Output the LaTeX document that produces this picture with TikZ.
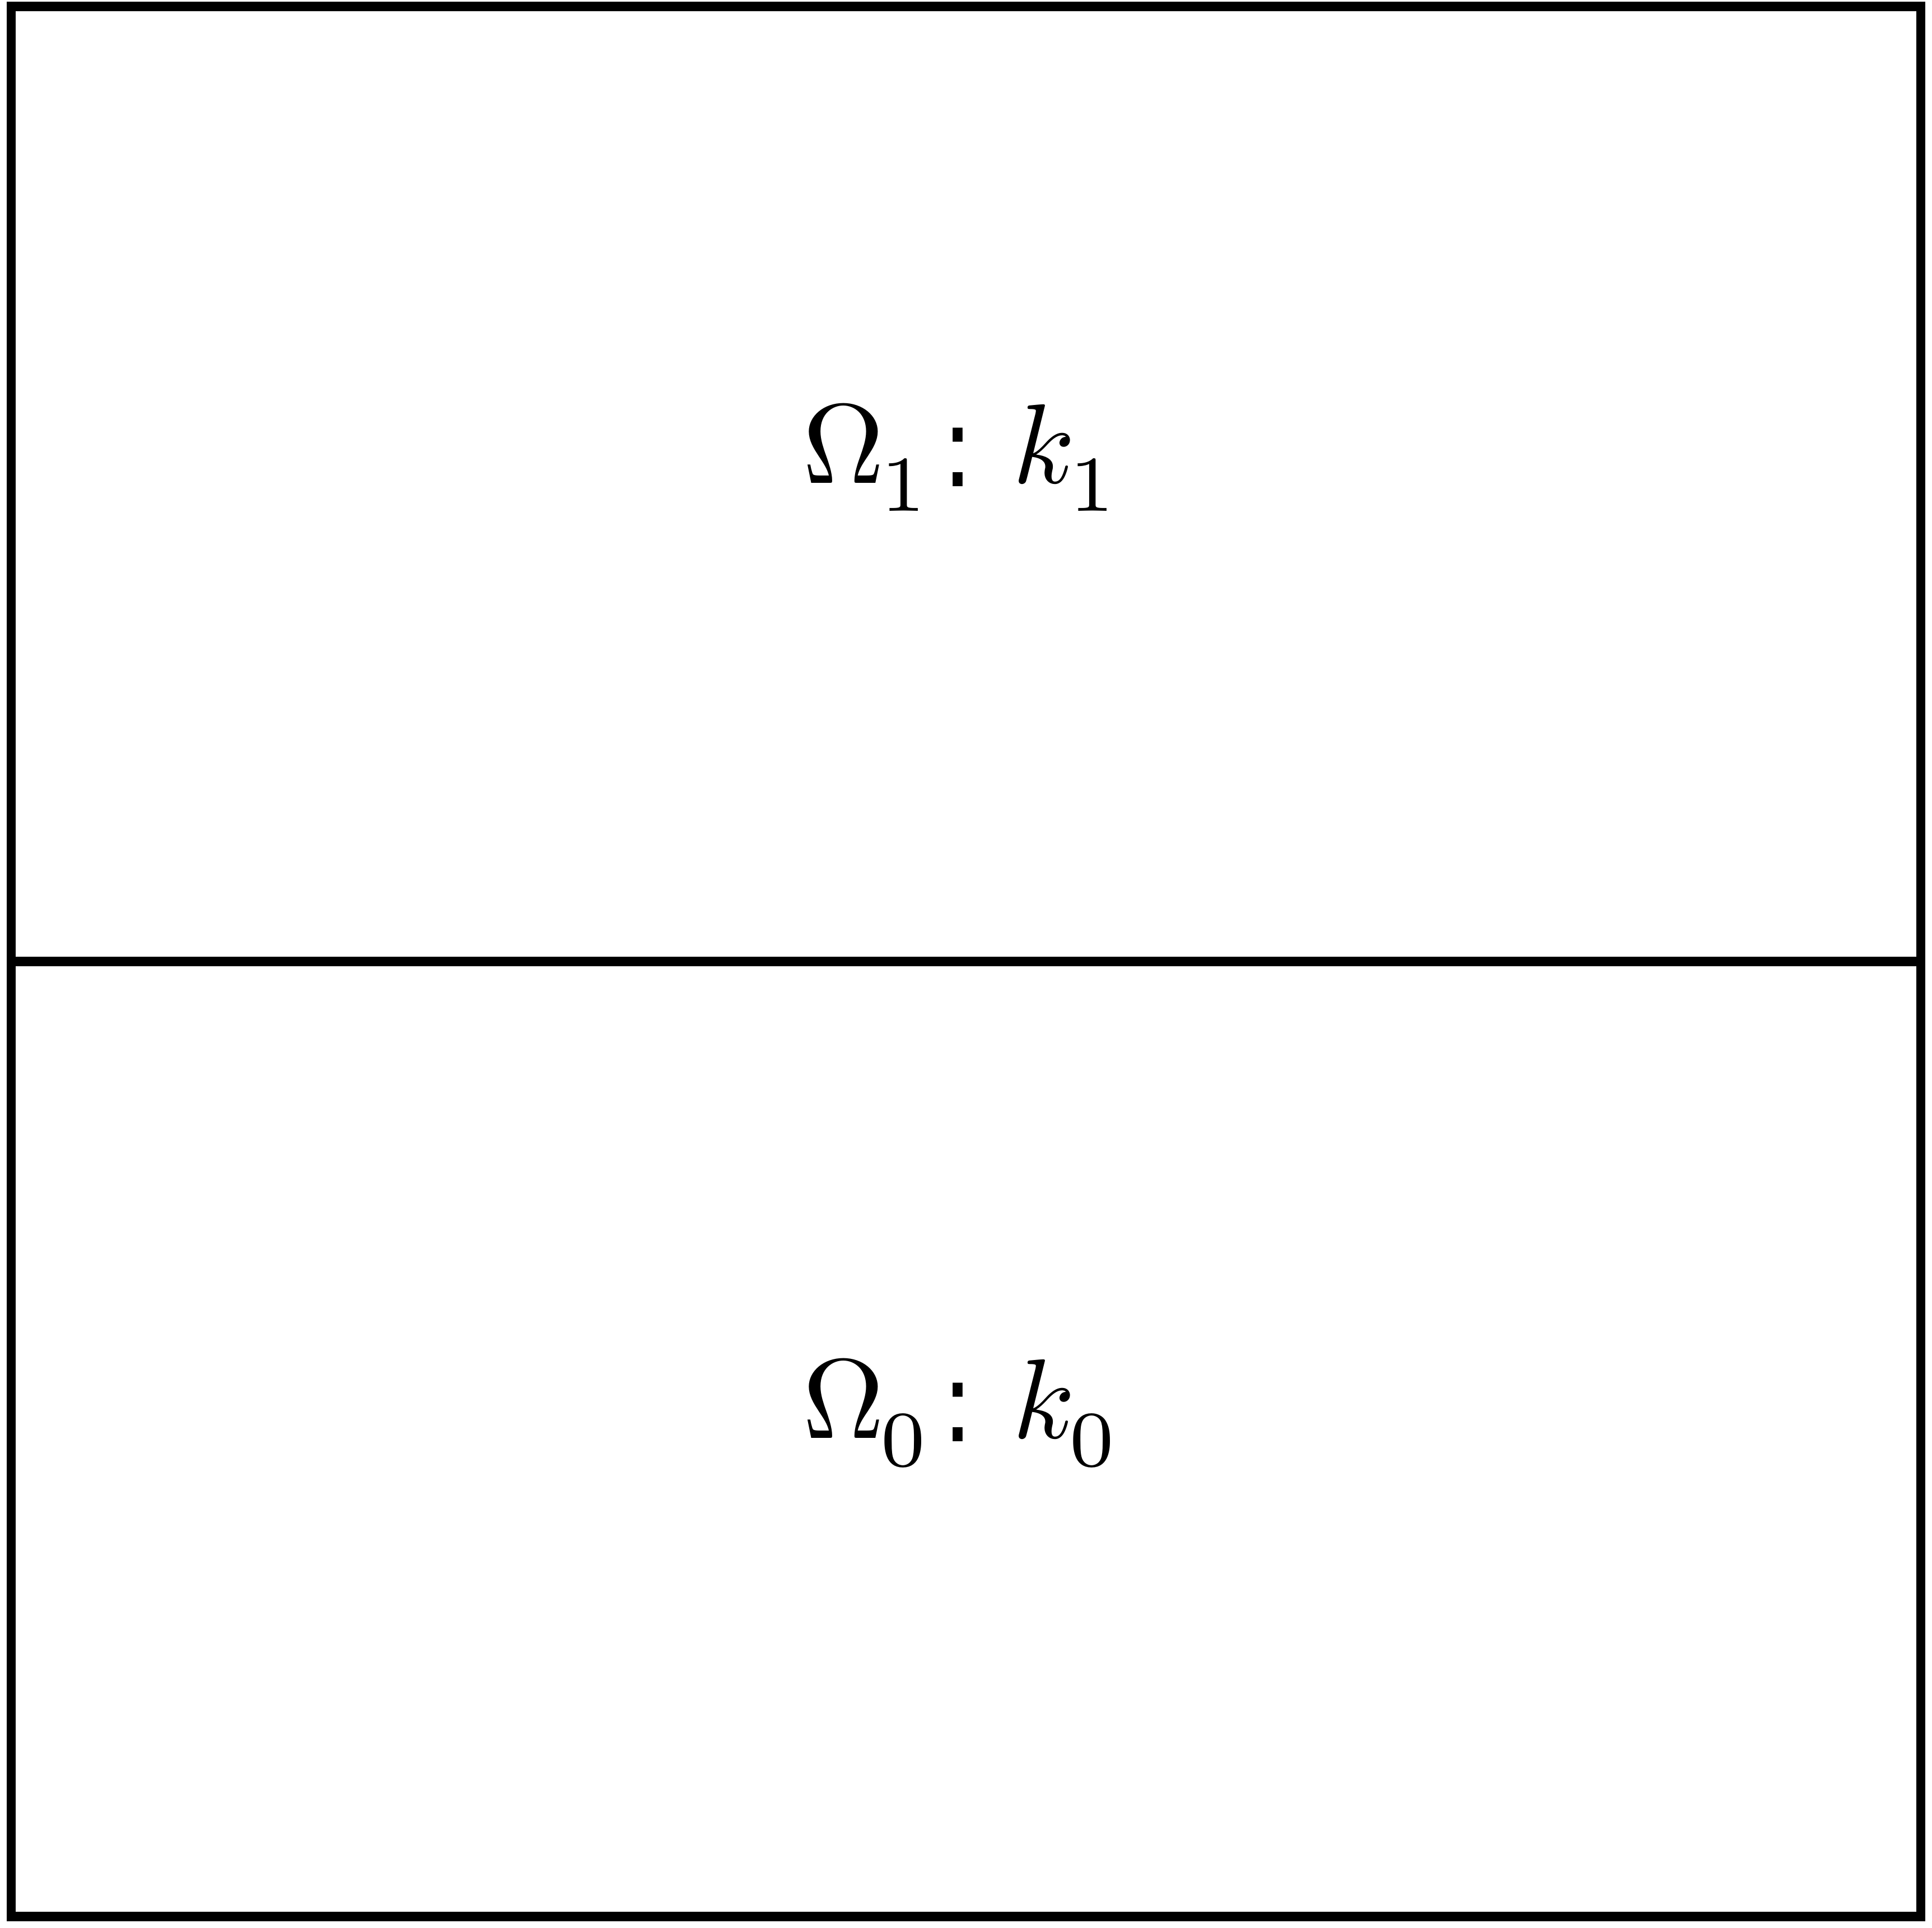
\documentclass[tikz,border=0pt]{standalone}
\usepackage{fontspec}
\newfontfamily\colonfont{DejaVu Sans}
\newcommand{\lowsub}[1]{\lower0.245em\hbox{$\scriptstyle #1$}}
\newcommand{\regionlabel}[2]{$#1$\kern-0.03em\lowsub{#2}\kern0.14em\lower0.025em\hbox{\scalebox{0.85}[1]{\colonfont:}}\kern0.34em$k$\kern-0.05em\lowsub{#2}}
\begin{document}
\begin{tikzpicture}[
  frame/.style={line width=4.75pt},
  lbl/.style={scale=5.75, anchor=base west, inner sep=0pt}
]
\useasboundingbox (0,0) rectangle (34.5,34.41);
\coordinate (bl) at (0.20,0.195);
\coordinate (tr) at (34.30,34.293);
\draw[frame] (bl) rectangle (tr);
\coordinate (ml) at (0.20,17.245);
\coordinate (mr) at (34.30,17.245);
\draw[frame] (ml) -- (mr);
\node[lbl] (top) at (14.29,25.78) {\regionlabel{\Omega}{1}};
\node[lbl] (bot) at (14.29,8.73) {\regionlabel{\Omega}{0}};
\end{tikzpicture}
\end{document}
